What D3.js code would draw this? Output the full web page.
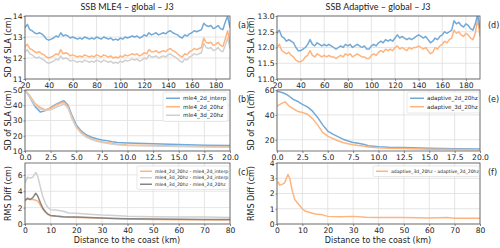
<!DOCTYPE html>
<html lang="en">
<head>
<meta charset="utf-8">
<title>SSB</title>
<script src="https://cdn.jsdelivr.net/npm/d3@7"></script>
<style>
  body { margin: 0; background: #fff; }
  text { font-family: "DejaVu Sans", sans-serif; fill: #222; }
  .title { font-family: Lato, "Open Sans", sans-serif; }
</style>
</head>
<body>
<script>
var width = 500, height = 248;

// distance 20..192 km, step 2
var xFar = d3.range(20, 193, 2);

var aBlue = [13.45,13.6,13.35,13.3,13.2,13.15,13.2,13.15,13.05,12.9,12.85,12.9,12.95,13.05,13.0,13.2,13.05,13.1,13.05,12.95,
  13.0,12.95,12.9,12.95,12.9,13.0,12.95,12.9,12.95,12.9,13.0,12.95,12.9,13.0,12.95,12.9,12.95,12.85,12.9,12.85,
  12.95,12.9,13.0,12.95,13.0,13.05,13.0,13.05,12.95,13.0,13.1,13.05,13.2,13.1,13.15,13.2,13.1,13.15,13.2,13.15,
  13.25,13.3,13.2,13.15,13.1,13.0,12.95,13.1,13.05,13.15,13.2,13.3,13.25,13.3,13.35,13.65,13.55,13.5,13.55,13.4,
  13.45,13.55,13.4,13.35,13.7,14.0,13.45];
var aOrange = [12.55,12.65,12.45,12.4,12.3,12.25,12.3,12.2,12.15,12.05,12.0,12.05,12.1,12.2,12.15,12.4,12.2,12.25,12.2,12.1,
  12.15,12.1,12.05,12.1,12.05,12.15,12.1,12.05,12.1,12.05,12.15,12.1,12.05,12.15,12.1,12.05,12.1,12.0,12.05,12.0,
  12.1,12.05,12.15,12.1,12.15,12.2,12.15,12.2,12.1,12.15,12.25,12.2,12.4,12.3,12.3,12.35,12.25,12.3,12.35,12.3,
  12.4,12.45,12.35,12.3,12.2,12.1,12.05,12.2,12.15,12.3,12.35,12.45,12.4,12.45,12.5,12.95,12.75,12.7,12.75,12.6,
  12.65,12.75,12.6,12.55,12.9,13.3,12.7];
var aGrey = [12.3,12.4,12.2,12.15,12.05,12.0,12.05,11.95,11.9,11.8,11.75,11.8,11.85,11.95,11.9,12.1,11.95,12.0,11.95,11.85,
  11.9,11.85,11.8,11.85,11.8,11.9,11.85,11.8,11.85,11.8,11.9,11.85,11.8,11.9,11.85,11.8,11.85,11.75,11.8,11.75,
  11.85,11.8,11.9,11.85,11.9,11.95,11.9,11.95,11.85,11.9,12.0,11.95,12.15,12.05,12.05,12.1,12.0,12.05,12.1,12.05,
  12.15,12.2,12.1,12.05,11.95,11.85,11.8,11.95,11.9,12.05,12.1,12.2,12.15,12.2,12.25,12.7,12.5,12.45,12.5,12.35,
  12.4,12.5,12.35,12.3,12.6,12.95,12.45];
var dBlue = [12.45,12.55,12.35,12.3,12.2,12.25,12.2,12.15,12.0,11.9,11.9,11.95,12.0,12.1,12.25,12.1,12.05,12.15,12.1,12.05,
  12.1,12.05,12.1,12.05,12.0,11.95,12.0,12.05,12.0,12.1,12.05,12.1,12.0,12.05,12.1,12.05,12.0,12.05,11.95,11.95,
  12.05,12.1,12.05,12.15,12.2,12.15,12.25,12.2,12.25,12.2,12.3,12.4,12.3,12.35,12.3,12.25,12.3,12.25,12.3,12.35,
  12.4,12.35,12.3,12.35,12.25,12.15,12.2,12.3,12.25,12.35,12.4,12.5,12.45,12.5,12.55,12.85,12.75,12.8,12.7,12.65,
  12.75,12.7,12.6,12.55,12.75,13.05,12.6];
var dOrange = [12.0,12.1,11.9,11.85,11.8,11.85,11.75,11.7,11.6,11.55,11.55,11.6,11.7,11.75,11.9,11.75,11.7,11.8,11.75,11.7,
  11.75,11.7,11.75,11.7,11.7,11.65,11.7,11.75,11.7,11.8,11.75,11.8,11.7,11.75,11.8,11.75,11.7,11.7,11.65,11.65,
  11.75,11.8,11.75,11.85,11.9,11.85,11.95,11.9,11.95,11.9,12.0,12.05,11.95,12.0,11.95,11.9,12.0,11.95,12.0,12.0,
  12.05,12.0,11.95,12.0,11.9,11.8,11.85,12.0,11.95,12.05,12.1,12.2,12.15,12.25,12.3,12.55,12.45,12.5,12.4,12.35,
  12.45,12.4,12.3,12.25,12.45,12.9,12.35];

// 0..20 km
var xB = [0,0.5,1.0,1.5,2.0,2.5,3.0,3.5,3.8,4.2,4.6,5.0,5.5,6.0,6.5,7.0,7.5,8.0,8.5,9.0,10,12.5,15,17.5,20];
var bBlue = [50,45,39,35.5,36.5,38.5,40.5,42.2,43,40,33,27,23,20.5,19,18,17.2,16.8,16,15.5,15.2,14.7,14.2,13.8,13.6];
var bOrange = [50,46,41,38.5,37,38,40,41.5,42,39,32,26,22,19.5,18,16.8,16,15.5,15,14.5,14,13.6,13.2,12.9,12.8];
var bGrey = [50,45,40,37.5,36.5,37,38.5,40,41,38,31,25.5,21.5,19,17.5,16.3,15.5,15,14.5,14.1,13.6,13.2,12.9,12.6,12.5];

var xE = [0,0.5,0.8,1.2,1.6,2.0,2.5,3.0,3.5,4.0,4.5,5.0,5.5,6.0,6.5,7.0,7.5,8.0,8.5,9.0,10,11,12.5,15,17.5,20];
var eBlue = [59,58,57,55,52.5,51,48.5,46.5,43,38,32,27,24.5,22.5,20.5,19,17.8,17.2,16.5,15.2,14.5,14,13.8,13.2,12.8,12.6];
var eOrange = [47,49.5,50.5,47,45,43,42,40.5,37,32,26,23,21,19.2,17.8,16.8,16,15.5,15,14.2,13.6,13.2,13,12.5,12.2,12.1];

// 0..80 km
var xC = [0,1,2,3,4.2,5,6,7,8,9,10,12,15,17,20,25,30,35,40,50,60,70,80];
var cOrange = [2.8,3.2,3.0,3.0,2.9,2.8,2.3,1.8,1.4,1.15,1.0,0.95,0.85,0.82,0.8,0.75,0.7,0.66,0.62,0.55,0.52,0.51,0.5];
var cLight = [5.0,5.7,5.6,5.7,6.3,5.8,4.5,3.3,2.5,2.0,1.75,1.7,1.55,1.35,1.3,1.2,1.1,1.05,0.95,0.9,0.85,0.85,0.8];
var cDark = [2.9,3.1,3.0,3.2,3.75,3.4,2.6,1.9,1.5,1.2,1.05,0.97,0.9,0.87,0.85,0.78,0.72,0.68,0.65,0.6,0.57,0.56,0.56];

var xF = [0,0.5,1,2,3,4.3,5,6,7,8,9,10,11,13,15,18,20,25,30,35,40,50,60,67,70,80];
var fOrange = [2.7,2.75,2.55,2.6,2.7,3.25,3.0,2.2,1.6,1.4,1.2,1.0,0.85,0.75,0.65,0.6,0.5,0.48,0.5,0.45,0.42,0.42,0.4,0.42,0.38,0.38];

var blue = "#72a9d6", orange = "#ffb47e", light = "#d0d0d0", dark = "#858585";

var svg = d3.select("body").append("svg")
  .attr("width", width).attr("height", height);

var cols = [[25, 230], [277, 480]];
var rows = [[16, 79], [90, 151], [163, 224]];
var ylabX = [11, 254];

function panel(o) {
  var x = d3.scaleLinear().domain(o.xd).range(cols[o.c]);
  var y = d3.scaleLinear().domain(o.yd).range([rows[o.r][1], rows[o.r][0]]);
  var g = svg.append("g");
  var id = "clip" + o.letter;
  g.append("clipPath").attr("id", id).append("rect")
    .attr("x", cols[o.c][0]).attr("y", rows[o.r][0])
    .attr("width", cols[o.c][1] - cols[o.c][0]).attr("height", rows[o.r][1] - rows[o.r][0]);

  // grid
  g.append("g").selectAll("line").data(o.xt).enter().append("line")
    .attr("x1", d => x(d)).attr("x2", d => x(d))
    .attr("y1", rows[o.r][0]).attr("y2", rows[o.r][1])
    .attr("stroke", "#dedede").attr("stroke-width", 0.8);
  g.append("g").selectAll("line").data(o.yt).enter().append("line")
    .attr("y1", d => y(d)).attr("y2", d => y(d))
    .attr("x1", cols[o.c][0]).attr("x2", cols[o.c][1])
    .attr("stroke", "#dedede").attr("stroke-width", 0.8);

  var line = d3.line().x(d => x(d[0])).y(d => y(d[1]));
  o.series.forEach(function(s) {
    g.append("path")
      .datum(s.xs.map((v, i) => [v, s.ys[i]]))
      .attr("d", line)
      .attr("clip-path", "url(#" + id + ")")
      .attr("fill", "none").attr("stroke", s.color)
      .attr("stroke-width", 1.5).attr("stroke-linejoin", "round");
  });

  // axes
  var xa = g.append("g").attr("transform", "translate(0," + rows[o.r][1] + ")")
    .call(d3.axisBottom(x).tickValues(o.xt).tickFormat(o.xf).tickSize(2).tickPadding(1.5));
  var ya = g.append("g").attr("transform", "translate(" + cols[o.c][0] + ",0)")
    .call(d3.axisLeft(y).tickValues(o.yt).tickFormat(o.yf).tickSize(1.5).tickPadding(1));
  [xa, ya].forEach(function(a) {
    a.select(".domain").remove();
    a.selectAll("line").attr("stroke", "#555").attr("stroke-width", 0.7);
    a.selectAll("text").attr("font-size", 7.6).attr("font-family", "DejaVu Sans").attr("fill", "#222");
  });
  g.append("rect")
    .attr("x", cols[o.c][0]).attr("y", rows[o.r][0])
    .attr("width", cols[o.c][1] - cols[o.c][0]).attr("height", rows[o.r][1] - rows[o.r][0])
    .attr("fill", "none").attr("stroke", "#555").attr("stroke-width", 0.8);

  // y label
  g.append("text")
    .attr("transform", "translate(" + ylabX[o.c] + "," + ((rows[o.r][0] + rows[o.r][1]) / 2) + ") rotate(-90)")
    .attr("text-anchor", "middle").attr("font-size", 8).text(o.ylabel);

  g.append("text").attr("x", cols[o.c][1] + 8).attr("y", rows[o.r][0] + 12)
    .attr("font-size", 8).text("(" + o.letter + ")");

  // legend
  if (o.legend) {
    var L = o.legend;
    var lg = g.append("g");
    lg.append("rect").attr("x", L.x).attr("y", L.y).attr("width", L.w)
      .attr("height", L.h * o.series.length + 4).attr("rx", 1.5)
      .attr("fill", "#fff").attr("fill-opacity", 0.85).attr("stroke", "#d8d8d8").attr("stroke-width", 0.6);
    o.series.forEach(function(s, i) {
      var cy = L.y + 2 + L.h * (i + 0.5);
      lg.append("line").attr("x1", L.x + 3).attr("x2", L.x + 3 + L.sw)
        .attr("y1", cy).attr("y2", cy).attr("stroke", s.color).attr("stroke-width", 1.5);
      lg.append("text").attr("x", L.x + 6 + L.sw).attr("y", cy + L.fs * 0.35)
        .attr("font-size", L.fs).attr("fill", "#333").text(s.name);
    });
  }
}

var f0 = d3.format(".0f"), f1 = d3.format(".1f");

panel({ letter: "a", c: 0, r: 0, xd: [20, 192], yd: [11, 14], xt: d3.range(20, 181, 20), yt: [11, 12, 13, 14],
  xf: f0, yf: f0, ylabel: "SD of SLA (cm)",
  series: [{ xs: xFar, ys: aGrey, color: light }, { xs: xFar, ys: aOrange, color: orange }, { xs: xFar, ys: aBlue, color: blue }] });

panel({ letter: "b", c: 0, r: 1, xd: [0, 20], yd: [10, 50], xt: d3.range(0, 20.1, 2.5), yt: [10, 20, 30, 40, 50],
  xf: f1, yf: f0, ylabel: "SD of SLA (cm)",
  series: [{ xs: xB, ys: bBlue, color: blue, name: "mle4_2d_interp" }, { xs: xB, ys: bOrange, color: orange, name: "mle4_2d_20hz" },
           { xs: xB, ys: bGrey, color: light, name: "mle4_3d_20hz" }],
  legend: { x: 163, y: 92, w: 65, h: 8.5, sw: 14, fs: 5.6 } });

panel({ letter: "c", c: 0, r: 2, xd: [0, 80], yd: [0, 7.45], xt: d3.range(0, 81, 10), yt: [0, 2, 4, 6],
  xf: f0, yf: f0, ylabel: "RMS Diff (cm)",
  series: [{ xs: xC, ys: cOrange, color: orange, name: "mle4_2d_20hz - mle4_2d_interp" },
           { xs: xC, ys: cLight, color: light, name: "mle4_3d_20hz - mle4_2d_interp" },
           { xs: xC, ys: cDark, color: dark, name: "mle4_3d_20hz - mle4_2d_20hz" }],
  legend: { x: 137, y: 166, w: 92, h: 6.5, sw: 12, fs: 4.6 } });

panel({ letter: "d", c: 1, r: 0, xd: [20, 192], yd: [11, 13], xt: d3.range(20, 181, 20), yt: [11, 11.5, 12, 12.5, 13],
  xf: f0, yf: f1, ylabel: "SD of SLA (cm)",
  series: [{ xs: xFar, ys: dOrange, color: orange }, { xs: xFar, ys: dBlue, color: blue }] });

panel({ letter: "e", c: 1, r: 1, xd: [0, 20], yd: [11, 60], xt: d3.range(0, 20.1, 2.5), yt: [20, 40, 60],
  xf: f1, yf: f0, ylabel: "SD of SLA (cm)",
  series: [{ xs: xE, ys: eBlue, color: blue, name: "adaptive_2d_20hz" }, { xs: xE, ys: eOrange, color: orange, name: "adaptive_3d_20hz" }],
  legend: { x: 407, y: 92, w: 72, h: 8.5, sw: 14, fs: 5.6 } });

panel({ letter: "f", c: 1, r: 2, xd: [0, 80], yd: [0, 4], xt: d3.range(0, 81, 10), yt: [0, 1, 2, 3, 4],
  xf: f0, yf: f0, ylabel: "RMS Diff (cm)",
  series: [{ xs: xF, ys: fOrange, color: orange, name: "adaptive_3d_20hz - adaptive_2d_20hz" }],
  legend: { x: 373, y: 166, w: 106, h: 6.5, sw: 12, fs: 4.6 } });

// titles and x labels
svg.append("text").attr("class", "title").attr("x", 127).attr("y", 10).attr("text-anchor", "middle")
  .attr("font-size", 9).text("SSB MLE4 – global – J3");
svg.append("text").attr("class", "title").attr("x", 378).attr("y", 10).attr("text-anchor", "middle")
  .attr("font-size", 9).text("SSB Adaptive – global – J3");
svg.append("text").attr("x", 127).attr("y", 243).attr("text-anchor", "middle")
  .attr("font-size", 8).text("Distance to the coast (km)");
svg.append("text").attr("x", 378).attr("y", 243).attr("text-anchor", "middle")
  .attr("font-size", 8).text("Distance to the coast (km)");
</script>
</body>
</html>
